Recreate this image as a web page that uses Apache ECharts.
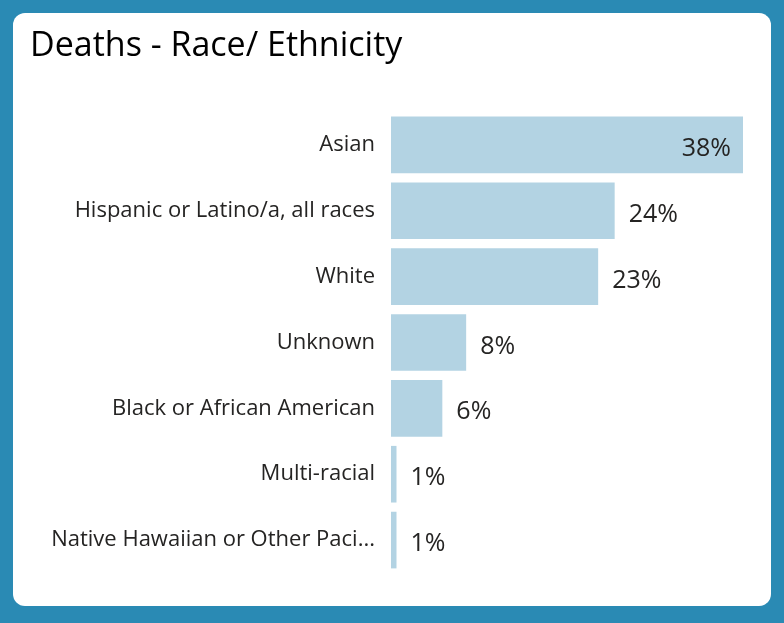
<!DOCTYPE html>
<html>
<head>
<meta charset="utf-8">
<script src="https://cdn.jsdelivr.net/npm/echarts@6/dist/echarts.min.js"></script>
<style>
  html, body { margin: 0; padding: 0; background: #2a8ab4; }
  #card {
    position: absolute; left: 13px; top: 13px; width: 758px; height: 593px;
    background: #ffffff; border-radius: 12px;
  }
  #chart { position: absolute; left: 0; top: 0; width: 784px; height: 623px; }
</style>
</head>
<body>
<div id="card"></div>
<div id="chart"></div>
<script>
const categories = [
  "Asian",
  "Hispanic or Latino/a, all races",
  "White",
  "Unknown",
  "Black or African American",
  "Multi-racial",
  "Native Hawaiian or Other Pacific Islander",
];
// percent of deaths
const deathShare = [38.4, 24.4, 22.6, 8.2, 5.6, 0.6, 0.6];

const renderChart = () => {
  var myChart = echarts.init(document.getElementById("chart"), null, { renderer: "canvas" });
  var font = "'Open Sans', 'Noto Sans', sans-serif";

  var option = {
    backgroundColor: "transparent",
    animation: false,
    title: {
      text: "Deaths - Race/ Ethnicity",
      left: 25,
      top: 24,
      textStyle: { fontFamily: font, fontSize: 34, fontWeight: "normal", color: "#000000" },
    },
    grid: { left: 391, right: 41, top: 112, bottom: 50 },
    xAxis: {
      type: "value",
      min: 0,
      max: Math.max(...deathShare),
      show: false,
    },
    yAxis: {
      type: "category",
      data: categories,
      inverse: true,
      axisLine: { show: false },
      axisTick: { show: false },
      axisLabel: {
        margin: 16,
        fontFamily: font,
        fontSize: 22,
        color: "#252423",
        width: 326,
        overflow: "truncate",
        ellipsis: "...",
      },
    },
    series: [
      {
        type: "bar",
        data: deathShare.map((v, i) => ({
          value: v,
          label: i === 0 ? { position: "insideRight", distance: 12 } : { position: "right", distance: 14 },
        })),
        barCategoryGap: "14%",
        itemStyle: { color: "#b3d3e3" },
        label: {
          show: true,
          fontFamily: font,
          fontSize: 25,
          color: "#252423",
          offset: [0, 4],
          formatter: (p) => Math.round(p.value) + "%",
        },
      },
    ],
  };

  myChart.setOption(option);
};

document.addEventListener("DOMContentLoaded", renderChart);
</script>
</body>
</html>
